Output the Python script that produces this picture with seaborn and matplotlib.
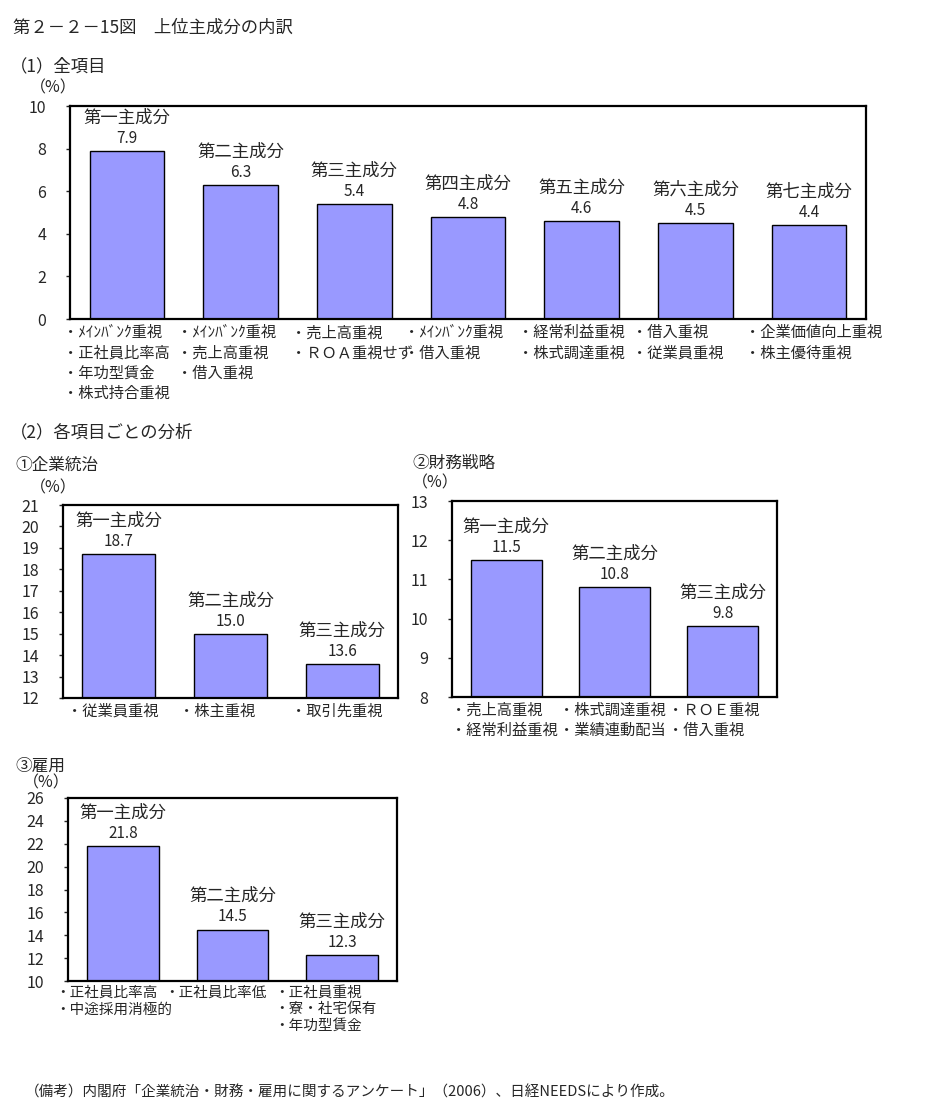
import numpy as np
import pandas as pd
import seaborn as sns
import matplotlib.pyplot as plt

# data
all_names = ["第一主成分", "第二主成分", "第三主成分", "第四主成分", "第五主成分", "第六主成分", "第七主成分"]
all_vals = [7.9, 6.3, 5.4, 4.8, 4.6, 4.5, 4.4]
all_items = [
    ["・ﾒｲﾝﾊﾞﾝｸ重視", "・正社員比率高", "・年功型賃金", "・株式持合重視"],
    ["・ﾒｲﾝﾊﾞﾝｸ重視", "・売上高重視", "・借入重視"],
    ["・売上高重視", "・ＲＯＡ重視せず"],
    ["・ﾒｲﾝﾊﾞﾝｸ重視", "・借入重視"],
    ["・経常利益重視", "・株式調達重視"],
    ["・借入重視", "・従業員重視"],
    ["・企業価値向上重視", "・株主優待重視"],
]

gov_names = ["第一主成分", "第二主成分", "第三主成分"]
gov_vals = [18.7, 15.0, 13.6]
gov_items = [["・従業員重視"], ["・株主重視"], ["・取引先重視"]]

fin_names = ["第一主成分", "第二主成分", "第三主成分"]
fin_vals = [11.5, 10.8, 9.8]
fin_items = [["・売上高重視", "・経常利益重視"], ["・株式調達重視", "・業績連動配当"], ["・ＲＯＥ重視", "・借入重視"]]

emp_names = ["第一主成分", "第二主成分", "第三主成分"]
emp_vals = [21.8, 14.5, 12.3]
emp_items = [["・正社員比率高", "・中途採用消極的"], ["・正社員比率低"], ["・正社員重視", "・寮・社宅保有", "・年功型賃金"]]

sns.set_style("white")
plt.rcParams['font.family'] = ['Noto Sans CJK JP', 'DejaVu Sans']

W, H = 950, 1114
fig = plt.figure(figsize=(W / 100, H / 100), dpi=100)
BAR = "#9999FF"


def px(x, y):
    return x / W, 1 - y / H


def box(x0, y0, x1, y1):
    return [x0 / W, 1 - y1 / H, (x1 - x0) / W, (y1 - y0) / H]


def panel(rect, names, vals, items, ylim, step, lab_shift, lab_size=11):
    ax = fig.add_axes(rect)
    df = pd.DataFrame({"name": names, "val": vals})
    sns.barplot(data=df, x="name", y="val", ax=ax, color=BAR, saturation=1,
                width=0.655, edgecolor="black", linewidth=1.0)
    ax.set_ylim(*ylim)
    ax.set_yticks(np.arange(ylim[0], ylim[1] + 0.01, step))
    ax.set_xticks([])
    ax.set_xlabel("")
    ax.set_ylabel("")
    for s in ax.spines.values():
        s.set_visible(True)
        s.set_color("black")
        s.set_linewidth(1.6)
    ax.tick_params(axis="y", direction="out", length=3, width=1, pad=14,
                   labelsize=11.5, left=True)
    for i, (n, v) in enumerate(zip(names, vals)):
        ax.annotate(f"{v:.1f}", xy=(i, v), xytext=(0, 3), textcoords="offset points",
                    ha="center", va="bottom", fontsize=11)
        ax.annotate(n, xy=(i, v), xytext=(0, 17.5), textcoords="offset points",
                    ha="center", va="bottom", fontsize=12.5)
        ax.text(i + lab_shift, -0.025, "\n".join(items[i]), transform=ax.get_xaxis_transform(),
                ha="left", va="top", fontsize=lab_size, linespacing=1.25)
    return ax


panel(box(70, 106, 866, 319), all_names, all_vals, all_items, (0, 10), 2, -0.56)
panel(box(63, 505, 398, 698), gov_names, gov_vals, gov_items, (12, 21), 1, -0.46)
panel(box(452, 501, 777, 697), fin_names, fin_vals, fin_items, (8, 13), 1, -0.51)
panel(box(68, 798, 397, 981), emp_names, emp_vals, emp_items, (10, 26), 2, -0.62, 10.5)

fig.text(*px(13, 28), "第２－２－15図　上位主成分の内訳", fontsize=12.5, va="center")
fig.text(*px(10, 66), "（1）全項目", fontsize=12.5, va="center")
fig.text(*px(30, 88), "（%）", fontsize=11.5, va="center")
fig.text(*px(10, 432), "（2）各項目ごとの分析", fontsize=12.5, va="center")
fig.text(*px(15, 465), "①企業統治", fontsize=12, va="center")
fig.text(*px(30, 488), "（%）", fontsize=11.5, va="center")
fig.text(*px(412, 463), "②財務戦略", fontsize=12, va="center")
fig.text(*px(412, 483), "（%）", fontsize=11.5, va="center")
fig.text(*px(15, 766), "③雇用", fontsize=12, va="center")
fig.text(*px(23, 783), "（%）", fontsize=11.5, va="center")
fig.text(*px(25, 1093), "（備考）内閣府「企業統治・財務・雇用に関するアンケート」（2006）、日経NEEDSにより作成。",
         fontsize=10.5, va="center")

fig.savefig("out.png", dpi=100, facecolor="white")
